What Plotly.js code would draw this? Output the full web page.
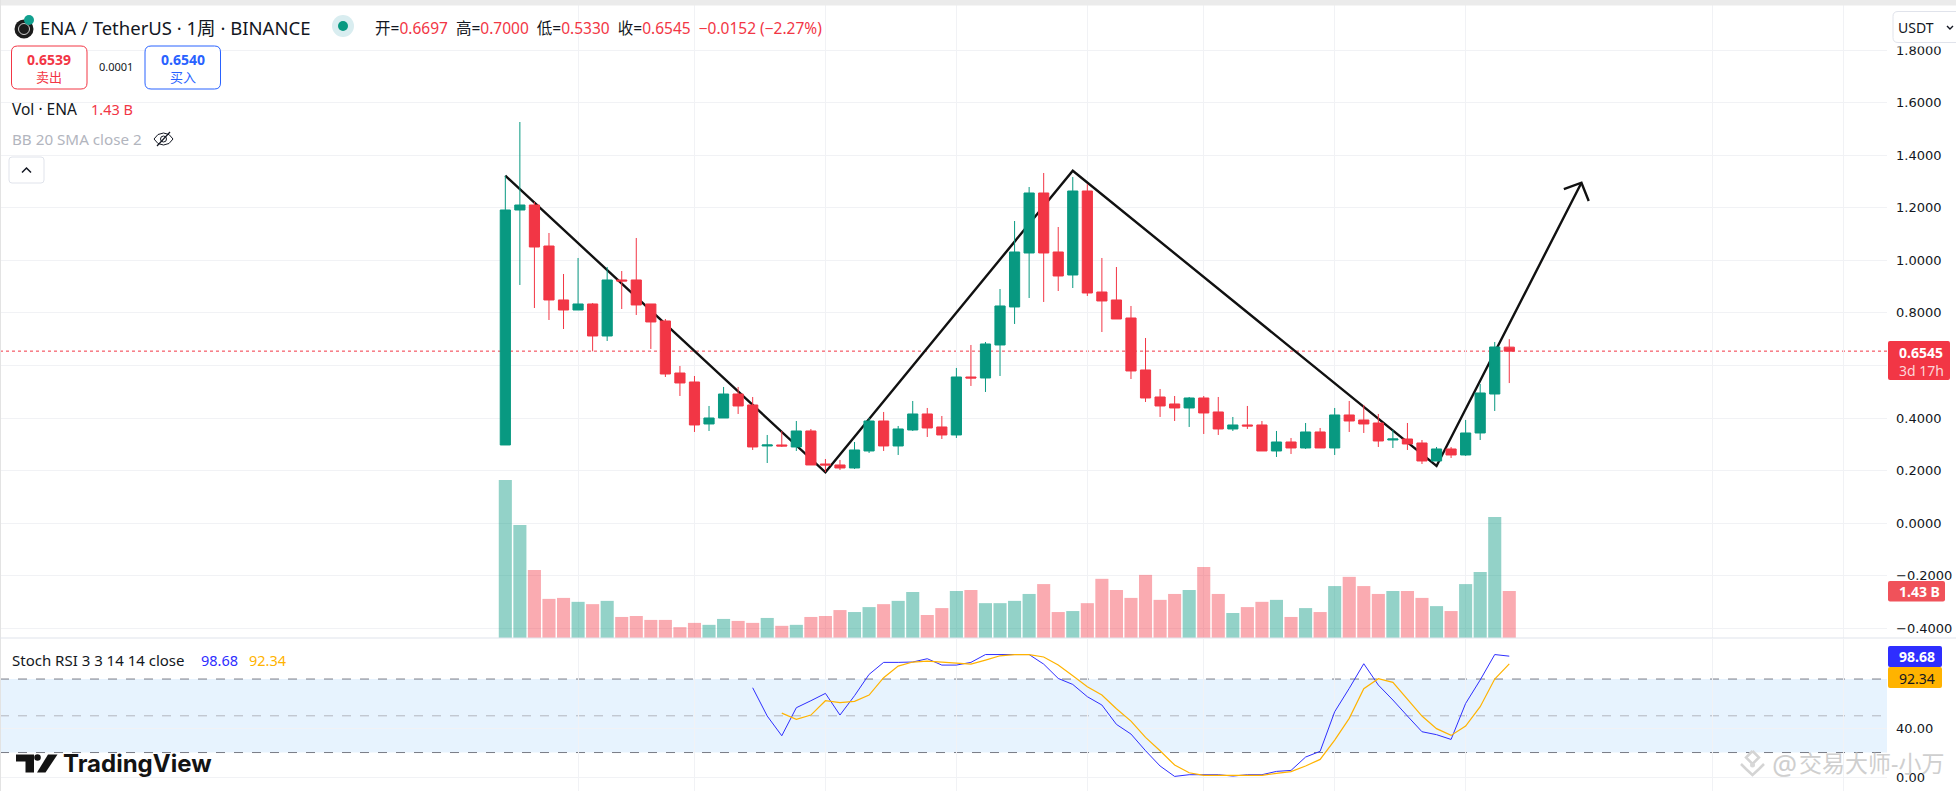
<!DOCTYPE html>
<html>
<head>
<meta charset="utf-8">
<script src="https://cdn.plot.ly/plotly-3.0.1.min.js"></script>
<style>
html, body { margin: 0; padding: 0; background: #fff; }
#plot { width: 1956px; height: 791px; }
</style>
</head>
<body>
<div id="plot"></div>
<script>
// weekly candles
var opens = [0.2974,1.1915,1.2105,1.0545,0.8491,0.811,0.8339,0.7121,0.9252,0.9252,0.8339,0.7692,0.5713,0.5371,0.3773,0.4001,0.4914,0.4496,0.2936,0.2974,0.2898,0.3507,0.2251,0.2213,0.2099,0.2746,0.3887,0.2936,0.3545,0.4154,0.3659,0.3355,0.5561,0.5523,0.6779,0.8225,1.0279,1.2562,1.0317,0.9442,1.2638,0.8795,0.8491,0.7806,0.5828,0.48,0.4534,0.4382,0.4762,0.423,0.3583,0.3735,0.3735,0.2746,0.3088,0.286,0.3469,0.286,0.4116,0.3925,0.3811,0.3164,0.3202,0.305,0.2365,0.2822,0.2594,0.3431,0.4914,0.6697];
var highs = [1.322,1.5263,1.2219,1.104,0.948,1.0089,0.8377,0.9746,0.9594,1.085,0.8339,0.7768,0.598,0.5599,0.4458,0.5181,0.5181,0.48,0.3355,0.3507,0.3887,0.3583,0.2441,0.2403,0.3088,0.4001,0.423,0.3697,0.4648,0.4382,0.4077,0.5904,0.6779,0.6893,0.8909,1.1496,1.279,1.3323,1.1268,1.3171,1.2904,1.0089,0.9746,0.8263,0.7045,0.5105,0.4838,0.48,0.4838,0.48,0.404,0.4458,0.3887,0.3507,0.324,0.3811,0.3621,0.4382,0.4648,0.4496,0.4154,0.3545,0.3811,0.3164,0.2898,0.2898,0.3925,0.5295,0.6893,0.7];
var lows = [0.2974,0.9062,0.8186,0.773,0.7387,0.811,0.6538,0.6931,0.8148,0.792,0.6627,0.5561,0.4838,0.3469,0.3507,0.4001,0.4154,0.2784,0.2289,0.2898,0.2746,0.2213,0.1947,0.2023,0.2061,0.267,0.2746,0.2594,0.3507,0.3278,0.3202,0.324,0.5219,0.4991,0.5599,0.7578,0.8567,0.8415,0.8833,0.8947,0.8643,0.7273,0.7768,0.5485,0.461,0.404,0.3887,0.3659,0.3393,0.3355,0.3507,0.3583,0.2746,0.2518,0.2632,0.2822,0.286,0.2594,0.3469,0.3431,0.2898,0.286,0.2784,0.2251,0.2365,0.248,0.2556,0.3164,0.4268,0.533];
var closes = [1.1915,1.2105,1.0507,0.8491,0.811,0.8339,0.7121,0.9252,0.9214,0.8301,0.7654,0.5675,0.5333,0.3735,0.4001,0.4914,0.4458,0.2898,0.2974,0.2936,0.3507,0.2213,0.2213,0.2099,0.2784,0.3887,0.2936,0.3583,0.4154,0.3621,0.3355,0.5561,0.5523,0.6817,0.8263,1.0317,1.2562,1.0279,0.9404,1.2638,0.8757,0.8453,0.7768,0.579,0.4762,0.4458,0.4382,0.4762,0.4192,0.3583,0.3735,0.3697,0.2746,0.3088,0.286,0.3469,0.286,0.4116,0.3887,0.3773,0.3126,0.3202,0.3012,0.2365,0.2822,0.2594,0.3431,0.4953,0.6703,0.6545];

// volume in billions
var volumes = [4.81,3.44,2.07,1.19,1.22,1.10,1.03,1.13,0.64,0.67,0.55,0.55,0.33,0.46,0.40,0.58,0.52,0.46,0.61,0.37,0.40,0.64,0.67,0.85,0.79,0.94,1.03,1.13,1.40,0.70,0.91,1.43,1.46,1.06,1.06,1.13,1.34,1.64,0.79,0.82,1.06,1.80,1.46,1.22,1.92,1.16,1.34,1.46,2.16,1.34,0.76,0.94,1.10,1.16,0.64,0.91,0.79,1.58,1.86,1.58,1.34,1.43,1.43,1.22,0.97,0.82,1.64,2.01,3.68,1.43];

// stoch rsi, k starts at candle 17 and d at candle 19
var stochK = [72.9,49.8,33.7,56.6,62.3,68.3,50.6,66.4,83.8,93.6,93.6,93.9,96.6,91.4,91.4,93.6,100,100,100,100,92.2,80.5,75.6,65.6,58.8,43,35.1,21.5,9,0.5,1.9,1.9,1.9,0.8,1.9,1.9,4.6,5.4,16.3,21,53.3,72.4,92.5,75.1,62.9,49.8,37,34.6,30.7,60.1,79.2,100,98.68];
var stochD = [52.2,47.1,50.6,62.3,60.7,61.8,66.9,81.1,90.6,93.9,94.7,93.9,93.1,92.2,95.5,99,100,100,98,91.4,82.7,73.7,66.9,55.8,45.7,32.4,21.5,9.8,3.5,1.4,1.4,1.4,1.4,1.4,3,4.4,9,14.4,30.2,47.9,72.1,80.3,77.3,63.4,49.8,39.5,34,41.6,57.4,80,92.34];

// hand drawn zigzag and arrow head
var zigzagX = [0,22,39,64,73.96];
var zigzagY = [1.322,0.1934,1.341,0.2175,1.2952];
var arrowX = [72.75,73.96,74.46];
var arrowY = [1.2713,1.2952,1.2256];

var priceTicks = [-0.4,-0.2,0,0.2,0.4,0.6,0.8,1,1.2,1.4,1.6,1.8];
var stochTicks = [0,40];
var timeGrid = [5,13,22,31,40,48,57,66,83,92];
var lastPrice = 0.6545;

var GREEN = '#089981', RED = '#F23645', INK = '#131722';
var BLUE = '#2E2EFF', ORANGE = '#FFB300', GRID = '#f1f2f5';
var SANS = '"Noto Sans","Noto Sans CJK SC",sans-serif';
var W = 1956, H = 791, CHART_R = 1887, SPLIT = 638;

var candleX = opens.map(function(v, i) { return i; });
var volColors = opens.map(function(v, i) {
  return closes[i] >= v ? 'rgba(8,153,129,0.44)' : 'rgba(242,54,69,0.42)';
});

function px(x) { return x / W; }
function py(y) { return 1 - y / H; }

function note(x, y, text, size, color, extra) {
  var a = {
    xref: 'paper', yref: 'paper', x: px(x), y: py(y), text: text,
    showarrow: false, xanchor: 'left', yanchor: 'middle', borderpad: 0,
    font: { family: SANS, size: size, color: color }
  };
  for (var k in (extra || {})) { a[k] = extra[k]; }
  return a;
}

function box(x0, y0, x1, y1, fill, line, r) {
  r = r || 0;
  var p = function(x, y) { return px(x) + ',' + py(y); };
  var d = 'M' + p(x0 + r, y0) + ' L' + p(x1 - r, y0) + ' Q' + p(x1, y0) + ' ' + p(x1, y0 + r) +
    ' L' + p(x1, y1 - r) + ' Q' + p(x1, y1) + ' ' + p(x1 - r, y1) +
    ' L' + p(x0 + r, y1) + ' Q' + p(x0, y1) + ' ' + p(x0, y1 - r) +
    ' L' + p(x0, y0 + r) + ' Q' + p(x0, y0) + ' ' + p(x0 + r, y0) + ' Z';
  return { type: 'path', xref: 'paper', yref: 'paper', path: d, fillcolor: fill,
    line: { color: line || fill, width: line ? 1 : 0 }, layer: 'above' };
}

function stroke(points, color, width) {
  var d = points.map(function(q, i) {
    return (i ? 'L' : 'M') + px(q[0]) + ',' + py(q[1]);
  }).join(' ');
  return { type: 'path', xref: 'paper', yref: 'paper', path: d,
    line: { color: color, width: width }, layer: 'above' };
}

function solid(points, color) {
  var d = points.map(function(q, i) {
    return (i ? 'L' : 'M') + px(q[0]) + ',' + py(q[1]);
  }).join(' ') + ' Z';
  return { type: 'path', xref: 'paper', yref: 'paper', path: d, fillcolor: color,
    line: { width: 0 }, layer: 'above' };
}

function dot(cx, cy, r, fill, line, lw) {
  return { type: 'circle', xref: 'paper', yref: 'paper',
    x0: px(cx - r), x1: px(cx + r), y0: py(cy + r), y1: py(cy - r),
    fillcolor: fill, line: { color: line || fill, width: line ? (lw || 1) : 0 }, layer: 'above' };
}

function level(v, color, dash) {
  return { type: 'line', xref: 'paper', yref: 'y3', x0: 0, x1: px(CHART_R), y0: v, y1: v,
    line: { color: color, width: 1, dash: dash }, layer: 'between' };
}

var data = [
  { type: 'scatter', mode: 'lines', x: zigzagX, y: zigzagY, yaxis: 'y',
    line: { color: '#111', width: 2.4 }, hoverinfo: 'skip' },
  { type: 'scatter', mode: 'lines', x: arrowX, y: arrowY, yaxis: 'y',
    line: { color: '#111', width: 2.4 }, hoverinfo: 'skip' },
  { type: 'bar', x: candleX, y: volumes, yaxis: 'y2',
    marker: { color: volColors, line: { width: 0 } }, hoverinfo: 'skip' },
  { type: 'candlestick', x: candleX, open: opens, high: highs, low: lows, close: closes, yaxis: 'y4',
    whiskerwidth: 0,
    increasing: { line: { color: GREEN, width: 1 }, fillcolor: GREEN },
    decreasing: { line: { color: RED, width: 1 }, fillcolor: RED } },
  { type: 'scatter', mode: 'lines', x: candleX.slice(17), y: stochK, yaxis: 'y3',
    line: { color: BLUE, width: 1 }, hoverinfo: 'skip' },
  { type: 'scatter', mode: 'lines', x: candleX.slice(19), y: stochD, yaxis: 'y3',
    line: { color: ORANGE, width: 1.2 }, hoverinfo: 'skip' }
];

var priceRange = [-0.437, 1.9905];
var priceDomain = [1 - SPLIT / H, 1];

var shapes = [
  // stoch band
  { type: 'rect', xref: 'paper', yref: 'y3', x0: 0, x1: px(CHART_R), y0: 20, y1: 80,
    fillcolor: 'rgba(33,150,243,0.11)', line: { width: 0 }, layer: 'below' },
  level(80, '#787b86', 'dash'),
  level(50, '#b2b5be', 'dash'),
  level(20, '#787b86', 'dash'),
  // last price line
  { type: 'line', xref: 'paper', yref: 'y', x0: 0, x1: px(CHART_R), y0: lastPrice, y1: lastPrice,
    line: { color: RED, width: 1, dash: 'dot' }, layer: 'between' },
  // window chrome
  box(0, 0, W, 5.5, '#ebebeb'),
  box(0, 0, 1, H, '#e3e3e3'),
  box(0, SPLIT - 0.5, W, SPLIT + 0.5, '#e0e3eb'),
  // header widgets
  dot(24, 29, 9.5, '#1b1b1b'),
  dot(24, 29, 5.5, '#1b1b1b', '#cfcfcf', 1),
  dot(29, 20, 5, '#12a08f'),
  dot(343, 26, 11, '#d9edf0'),
  dot(343, 26, 5, GREEN),
  box(11.5, 46, 87, 89, '#fff', RED, 6),
  box(145, 46, 220.5, 89, '#fff', '#2962FF', 6),
  box(9, 157, 44, 183, '#fff', '#e0e3eb', 3),
  stroke([[22, 172.5], [26.5, 168], [31, 172.5]], INK, 1.5),
  // eye off icon
  stroke([[154, 139], [158, 134.5], [163.5, 133], [169, 134.5], [173, 139], [169, 143.5], [163.5, 145], [158, 143.5], [154, 139]], INK, 1),
  dot(163.5, 139, 3, 'rgba(0,0,0,0)', INK, 1),
  stroke([[157, 146], [170, 132]], INK, 1.2),
  // currency button, hides the top of the 1.8000 label
  box(1893, 40, 1956, 46.5, '#fff'),
  box(1893, 11.5, 1962, 42.5, '#fff', '#e0e3eb', 5),
  stroke([[1947, 26], [1950, 29], [1953, 26]], INK, 1.4),
  // scale labels
  box(1888, 341, 1950, 380, RED, null, 2),
  box(1888, 581, 1945, 601.5, '#F0525A', null, 2),
  box(1888, 646, 1942, 667, BLUE, null, 2),
  box(1888, 667, 1942, 688, ORANGE, null, 2),
  // tradingview mark
  solid([[16, 754.5], [34, 754.5], [34, 772.5], [25.5, 772.5], [25.5, 761.5], [16, 761.5]], '#131313'),
  dot(37.5, 757.5, 3.3, '#131313'),
  solid([[48, 754.5], [57.5, 754.5], [45.5, 772.5], [37, 772.5]], '#131313'),
  // watermark logo
  stroke([[1752.5, 751], [1759, 757.5], [1752.5, 764], [1746, 757.5], [1752.5, 751]], '#d4d4d4', 2.5),
  stroke([[1741, 764], [1746, 769], [1752.5, 775], [1759, 769], [1764, 764]], '#d4d4d4', 2.5),
  dot(1752.5, 765, 2.5, '#d8d8d8')
];

var chrome = [
  note(39, 27, 'ENA / TetherUS · 1周 · BINANCE', 18.5, INK),
  note(374, 28, '开=<span style="color:' + RED + '">0.6697</span>  高=<span style="color:' + RED + '">0.7000</span>  低=<span style="color:' + RED + '">0.5330</span>  收=<span style="color:' + RED + '">0.6545</span>  <span style="color:' + RED + '">−0.0152 (−2.27%)</span>', 15.5, INK),
  note(49, 59, '<b>0.6539</b>', 14, RED, { xanchor: 'center' }),
  note(49, 77, '卖出', 13, RED, { xanchor: 'center' }),
  note(115.5, 67, '0.0001', 11, INK, { xanchor: 'center' }),
  note(183, 59, '<b>0.6540</b>', 14, '#2962FF', { xanchor: 'center' }),
  note(183, 77, '买入', 13, '#2962FF', { xanchor: 'center' }),
  note(11, 109, 'Vol · ENA', 15.5, INK),
  note(89.5, 109, '1.43 B', 14.5, RED),
  note(11, 139, 'BB 20 SMA close 2', 15.2, '#b2b5be'),
  note(11, 660, 'Stoch RSI 3 3 14 14 close', 15, INK),
  note(200, 660, '98.68', 14.5, BLUE),
  note(248, 660, '92.34', 14.5, ORANGE),
  note(1897, 27, 'USDT', 14, INK),
  note(1921, 352, '<b>0.6545</b>', 14, '#fff', { xanchor: 'center' }),
  note(1921, 370, '3d 17h', 14, '#fcd5d8', { xanchor: 'center' }),
  note(1919, 591.5, '<b>1.43 B</b>', 14, '#fff', { xanchor: 'center' }),
  note(1917, 656.5, '<b>98.68</b>', 14, '#fff', { xanchor: 'center' }),
  note(1917, 678, '92.34', 14, INK, { xanchor: 'center' }),
  note(62, 763, '<b>TradingView</b>', 24, '#131313', { font: { family: 'Inter,"Noto Sans",sans-serif', size: 24, color: '#131313' } }),
  note(1771, 764, '@', 28, '#cfcfcf'),
  note(1798, 763, '交易大师-小万', 23, '#cfcfcf')
];

var layout = {
  width: W, height: H,
  margin: { l: 0, r: 0, t: 0, b: 0 },
  paper_bgcolor: '#fff', plot_bgcolor: '#fff',
  showlegend: false, hovermode: false,
  boxgap: 0.3, boxgroupgap: 0, bargap: 0.1,
  xaxis: {
    type: 'linear', domain: [0, px(CHART_R)], range: [-34.73, 94.96], anchor: 'y3',
    tickmode: 'array', tickvals: timeGrid, showticklabels: false, ticks: '',
    showgrid: true, gridcolor: GRID, gridwidth: 1, zeroline: false, showline: false,
    rangeslider: { visible: false }, fixedrange: true
  },
  yaxis: {
    domain: priceDomain, range: priceRange, side: 'right', anchor: 'x',
    tickmode: 'array', tickvals: priceTicks, tickformat: '.4f', ticks: '', ticklabelstandoff: 8,
    tickfont: { family: '"DejaVu Sans",sans-serif', size: 13, color: INK },
    showgrid: true, gridcolor: GRID, zeroline: false, showline: false, fixedrange: true
  },
  yaxis2: {
    overlaying: 'y', side: 'right', anchor: 'x', range: [0, 19.41], visible: false, fixedrange: true
  },
  yaxis4: {
    overlaying: 'y', side: 'right', anchor: 'x', range: priceRange, visible: false, fixedrange: true
  },
  yaxis3: {
    domain: [0, 1 - (SPLIT + 1) / H], range: [-11.4, 112.7], side: 'right', anchor: 'x',
    tickmode: 'array', tickvals: stochTicks, tickformat: '.2f', ticks: '', ticklabelstandoff: 8,
    tickfont: { family: '"DejaVu Sans",sans-serif', size: 13, color: INK },
    showgrid: true, gridcolor: GRID, zeroline: false, showline: false, fixedrange: true
  },
  shapes: shapes,
  annotations: chrome
};

Plotly.newPlot('plot', data, layout, { displayModeBar: false, staticPlot: true });
</script>
</body>
</html>
